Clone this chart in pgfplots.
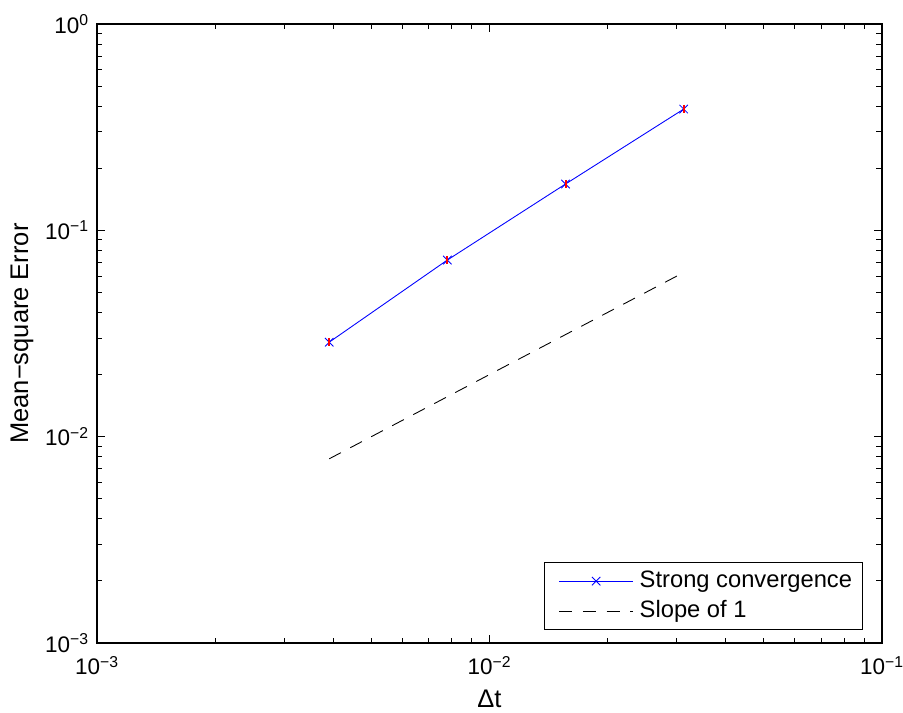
\documentclass[border=0pt]{standalone}
\usepackage{fontspec}
\setmainfont{Liberation Sans}
\usepackage{pgfplots}
\pgfplotsset{compat=1.18}

\begin{document}
\begin{tikzpicture}
\begin{loglogaxis}[
  name=ax,
  scale only axis,
  width=15.7cm, height=12.38cm,
  xmin=1e-3, xmax=1e-1, ymin=1e-3, ymax=1,
  xtick={1e-3,1e-2,1e-1},
  xticklabels={10\textsuperscript{−3},10\textsuperscript{−2},10\textsuperscript{−1}},
  ytick={1e-3,1e-2,1e-1,1},
  yticklabels={10\textsuperscript{−3},10\textsuperscript{−2},10\textsuperscript{−1},10\textsuperscript{0}},
  tick label style={font=\fontsize{12.8}{15}\selectfont},
  label style={font=\fontsize{14.5}{17}\selectfont},
  xticklabel style={yshift=-4pt},
  yticklabel style={xshift=-1pt},
  xlabel={Δt}, ylabel={Mean−square Error},
  xlabel style={at={(axis description cs:0.5,-0.075)}, anchor=north, inner sep=0pt},
  ylabel style={at={(axis description cs:-0.0955,0.5)}, anchor=center, inner sep=0pt},
  tick align=inside,
  major tick length=0.17cm, minor tick length=0.11cm,
  every tick/.style={black, line width=0.5pt},
  axis line style={line width=0.6pt},
  legend style={at={(0.976,0.021)}, anchor=south east, draw=black,
    font=\fontsize{13.5}{16}\selectfont,
    nodes={inner sep=1pt, text height=10pt, text depth=3pt},
    line width=0.6pt, inner xsep=5pt, inner ysep=3pt, row sep=2pt, column sep=2.5pt},
  legend cell align=left,
  legend image code/.code={\path (-0.1cm,0cm);
    \draw[mark repeat=2,mark phase=2,#1] plot coordinates {(0cm,0cm) (0.74cm,0cm) (1.48cm,0cm)};},
]
\addplot[blue, line width=0.5pt, mark=x, mark size=3.4pt] coordinates {
(0.00390625,0.0287)(0.0078125,0.0718)(0.015625,0.1677)(0.03125,0.387)
};
\addlegendentry{Strong convergence}
\addplot[black, line width=0.5pt, dash pattern=on 7.5pt off 6pt] coordinates {
(0.00390625,0.0078125)(0.03125,0.0625)
};
\addlegendentry{Slope of 1}
\addplot[red, only marks, mark=|, mark size=2.4pt, line width=1.1pt, forget plot] coordinates {
(0.00390625,0.0287)(0.0078125,0.0718)(0.015625,0.1677)(0.03125,0.387)
};
\end{loglogaxis}
\pgfresetboundingbox
\path[use as bounding box] ([shift={(-1.94cm,-1.4cm)}]ax.south west) rectangle ([shift={(0.42cm,0.48cm)}]ax.north east);
\end{tikzpicture}
\end{document}
